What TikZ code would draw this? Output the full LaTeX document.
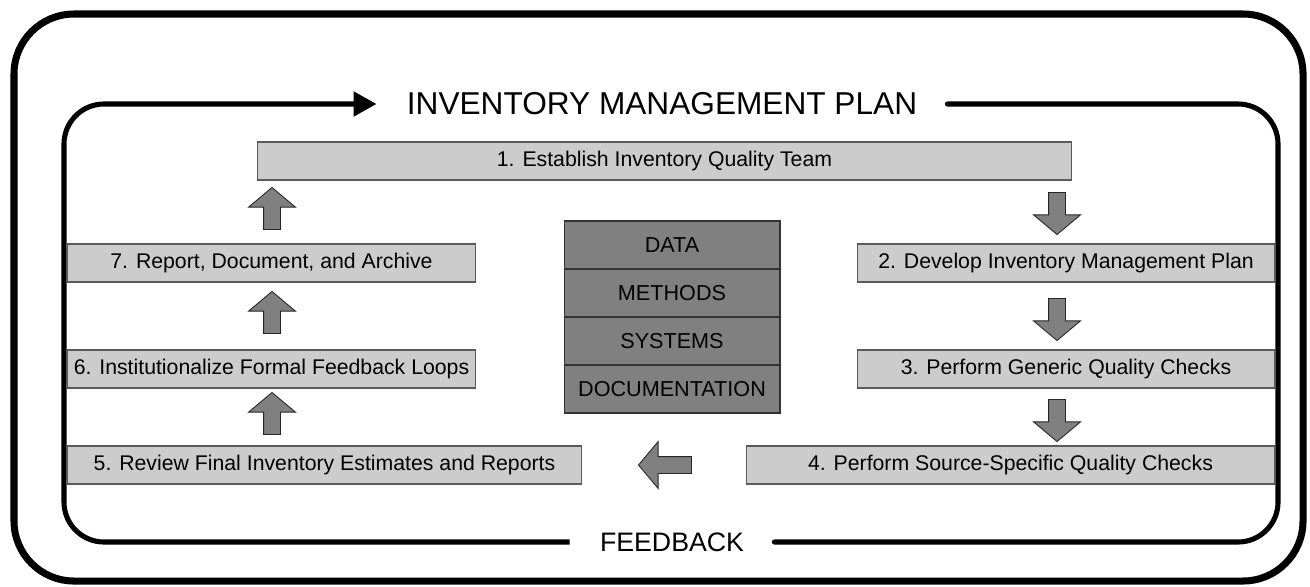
\documentclass[tikz,border=0pt]{standalone}
\usepackage{fontspec}
\setmainfont{Liberation Sans}
\usetikzlibrary{shapes.arrows, arrows.meta, positioning, calc}
\definecolor{boxgray}{RGB}{204, 204, 204}
\definecolor{stackgray}{RGB}{128, 128, 128}
\definecolor{rimgray}{RGB}{90, 90, 90}

\begin{document}
\begin{tikzpicture}[x=0.02cm, y=-0.02cm]
                \tikzstyle{stepbox} = [rectangle, draw=rimgray, fill=boxgray, line width=0.6pt, inner sep=0pt, minimum height=0.76cm, font=\fontsize{12.1}{14}\selectfont]
                \tikzstyle{layer} = [rectangle, draw=black!80, fill=stackgray, line width=0.6pt, inner sep=0pt, minimum width=4.32cm, minimum height=0.96cm, font=\fontsize{12.3}{14}\selectfont]
                \tikzstyle{blockarrow} = [single arrow, draw=black!85, fill=stackgray, line width=0.5pt, inner sep=0.16cm, single arrow head extend=0.3cm, single arrow tip angle=100, minimum height=0.84cm]
                \tikzstyle{loopline} = [line width=2.9pt, rounded corners=0.8cm]
                \tikzstyle{looplabel} = [inner xsep=0.6cm, inner ysep=0pt]

                \useasboundingbox (0,0) rectangle (1310,586);

                % outer frame
                \draw[line width=4pt, rounded corners=1.2cm] (14,14) rectangle (1303,581);

                % loop labels
                \node[looplabel, font=\fontsize{18}{20}\selectfont] (plan) at (662,104) {INVENTORY MANAGEMENT PLAN};
                \node[looplabel, font=\fontsize{15.2}{17}\selectfont] (feedback) at (672,542) {FEEDBACK};

                % inner loop
                \draw[loopline, line cap=round] (plan.east) -| (1278,542) -- (feedback.east);
                \draw[loopline, -{Triangle[length=0.46cm, width=0.48cm]}] (feedback.west) -| (64,104) -- (plan.west);

                % steps
                \node[stepbox, minimum width=16.3cm] (s1) at (664.5,161) {1. Establish Inventory Quality Team};
                \node[stepbox, minimum width=8.36cm] (s2) at (1066,263) {2. Develop Inventory Management Plan};
                \node[stepbox, minimum width=8.36cm] (s3) at (1066,369) {3. Perform Generic Quality Checks};
                \node[stepbox, minimum width=10.58cm] (s4) at (1010.5,465) {4. Perform Source-Specific Quality Checks};
                \node[stepbox, minimum width=10.3cm] (s5) at (324.5,465) {5. Review Final Inventory Estimates and Reports};
                \node[stepbox, minimum width=8.18cm] (s6) at (271.5,369) {6. Institutionalize Formal Feedback Loops};
                \node[stepbox, minimum width=8.18cm] (s7) at (271.5,263) {7. Report, Document, and Archive};

                % core stack
                \node[layer] (data) at (672,245) {DATA};
                \node[layer] (methods) at (672,293) {METHODS};
                \node[layer] (systems) at (672,341) {SYSTEMS};
                \node[layer] (docs) at (672,389) {DOCUMENTATION};

                % block arrows
                \node[blockarrow, shape border rotate=270] (a12) at (1057,210) {};
                \node[blockarrow, shape border rotate=270] (a23) at (1057,316) {};
                \node[blockarrow, shape border rotate=270] (a34) at (1057,417) {};
                \node[blockarrow, shape border rotate=180, minimum height=1.06cm] (a45) at (668.5,465) {};
                \node[blockarrow, shape border rotate=90] (a56) at (272,417) {};
                \node[blockarrow, shape border rotate=90] (a67) at (272,316) {};
                \node[blockarrow, shape border rotate=90] (a71) at (272,212) {};
            \end{tikzpicture}
\end{document}
